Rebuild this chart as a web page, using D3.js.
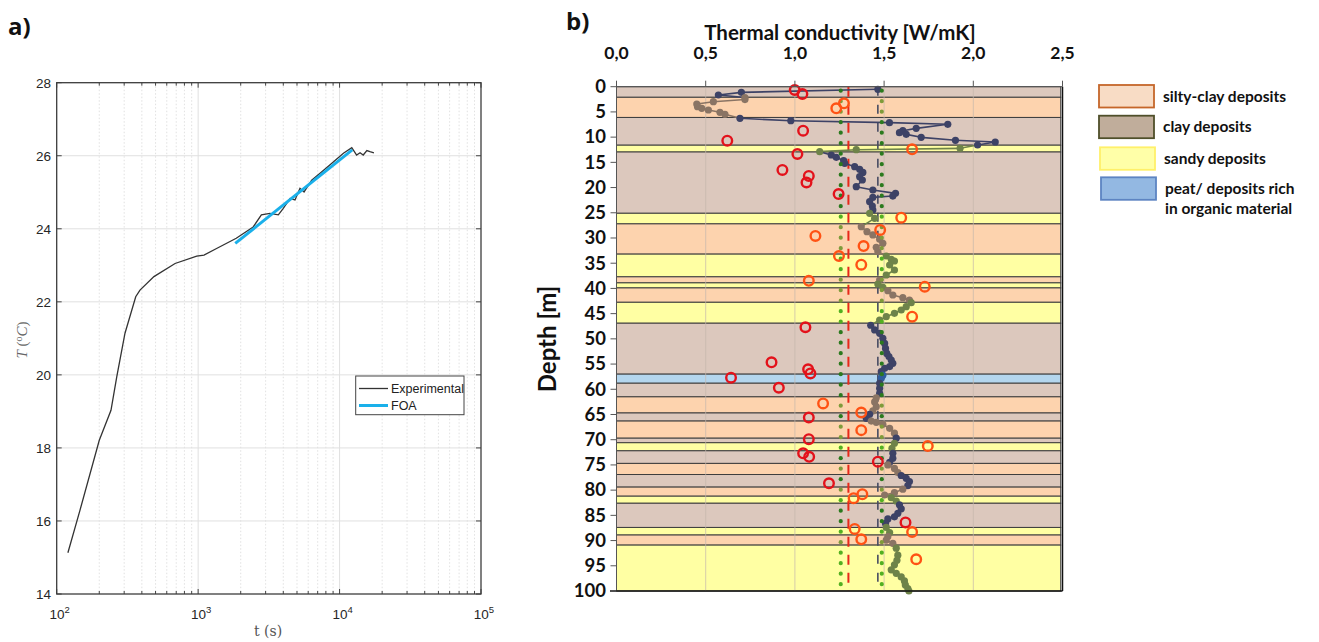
<!DOCTYPE html>
<html><head><meta charset="utf-8">
<script src="https://cdn.jsdelivr.net/npm/d3@7"></script>
<style>body{margin:0;background:#fff;} svg{display:block;}</style>
</head><body>
<svg id="c" width="1319" height="642"></svg>
<script>
// ---------------- Panel a data ----------------
const expTime = [120,146,200,242,266,304,362,388,487,687,977,1100,1350,1860,2450,2800,3220,3690,4000,4470,4840,5250,5610,6350,7280,8570,10650,12200,13200,13960,14700,15600,16400,17500];
const expTemp = [15.13,16.29,18.21,19.03,19.95,21.14,22.14,22.32,22.69,23.05,23.25,23.28,23.46,23.74,24.05,24.38,24.42,24.38,24.56,24.83,24.79,25.11,25.01,25.33,25.52,25.75,26.07,26.22,26.02,26.08,26.02,26.14,26.11,26.08];
const foaTime = [1830,12300];
const foaTemp = [23.6,26.16];
const aYTicks = [14,16,18,20,22,24,26,28];
const aXExponents = [2,3,4,5];
const aLegend = ["Experimental","FOA"];

// ---------------- Panel b data ----------------
const layerTop    = [0,2.1,6.1,11.6,12.95,25.1,27.2,33.2,37.7,38.9,39.9,42.75,46.9,57.0,58.8,61.5,64.7,66.3,69.7,70.6,72.2,74.7,76.9,79.4,81.2,82.6,87.4,88.9,90.9];
const layerKind   = ["clay","silty","clay","sandy","clay","sandy","silty","sandy","silty","sandy","silty","sandy","clay","peat","clay","silty","clay","silty","clay","sandy","clay","silty","clay","silty","sandy","clay","sandy","silty","sandy"];
const profDepth = [0.52,1.12,1.65,2.15,2.55,2.97,3.43,3.96,4.29,4.62,5.08,5.48,6.27,6.74,7.13,7.46,8.26,8.72,9.12,9.45,10.04,10.63,10.97,11.56,12.22,12.49,12.88,13.54,14.0,14.67,15.2,15.86,16.39,16.99,17.85,18.5,19.83,20.48,21.15,21.68,21.94,22.8,23.66,24.45,25.1,
  26.1,27.76,28.75,29.4,30.26,31.06,31.85,32.7,33.57,34.23,34.56,35.36,36.35,37.34,38.33,39.12,39.78,40.45,41.3,41.84,42.3,42.83,43.62,44.28,44.93,45.6,46.26,47.3,
  48.24,48.9,49.9,50.9,51.9,52.9,53.5,54.2,54.85,55.5,55.85,56.5,57.2,57.8,58.8,59.8,60.8,61.7,62.5,63.45,64.3,64.97,65.76,66.3,66.55,66.95,67.74,68.7,69.7,70.7,71.7,72.7,
  73.7,74.5,75.0,75.7,76.5,77.1,77.65,78.3,79.1,79.8,80.5,80.96,81.5,82.15,82.9,83.7,84.6,85.3,85.7,86.6,87.4,88.4,89.2,89.9,90.55,91.5,92.9,93.9,94.8,95.8,96.5,97.2,98.0,98.8,99.5,100];
const profK = [1.465,0.70,0.571,0.72,0.72,0.543,0.45,0.454,0.478,0.515,0.58,0.608,0.692,0.977,1.53,1.857,1.68,1.605,1.586,1.624,1.708,1.90,2.123,2.024,1.926,1.344,1.139,1.204,1.232,1.273,1.279,1.335,1.363,1.381,1.363,1.378,1.344,1.437,1.564,1.549,1.437,1.419,1.434,1.437,1.419,
  1.447,1.372,1.404,1.437,1.475,1.493,1.456,1.465,1.512,1.54,1.558,1.531,1.558,1.512,1.475,1.465,1.493,1.521,1.549,1.605,1.642,1.652,1.624,1.596,1.558,1.512,1.475,1.425,
  1.447,1.475,1.493,1.503,1.508,1.515,1.527,1.540,1.549,1.531,1.503,1.484,1.493,1.484,1.475,1.475,1.475,1.456,1.447,1.456,1.437,1.419,1.40,1.428,1.456,1.493,1.531,1.558,1.568,1.558,1.544,1.549,
  1.549,1.531,1.521,1.558,1.577,1.596,1.624,1.642,1.633,1.605,1.558,1.503,1.540,1.568,1.586,1.596,1.577,1.558,1.521,1.508,1.512,1.531,1.521,1.512,1.549,1.568,1.577,1.572,1.558,1.540,1.568,1.596,1.614,1.619,1.633,1.639];
const circDepth = [0.65,1.45,3.3,4.29,8.72,10.7,12.42,13.35,16.5,17.7,19.0,21.28,25.97,28.4,29.6,31.6,33.57,35.3,38.5,39.65,45.6,47.7,54.65,56.05,56.85,57.7,59.7,62.8,64.6,65.6,68.1,69.9,71.25,72.7,73.4,74.35,78.65,80.8,81.6,86.4,87.7,88.3,89.75,93.7];
const circK     = [0.999,1.042,1.275,1.232,1.046,0.621,1.657,1.014,0.93,1.078,1.065,1.245,1.596,1.478,1.115,1.385,1.247,1.372,1.078,1.728,1.657,1.059,0.869,1.074,1.087,0.642,0.91,1.158,1.372,1.078,1.372,1.078,1.745,1.046,1.08,1.465,1.191,1.378,1.329,1.62,1.335,1.657,1.372,1.68];
const meanK  = [1.30, 1.465];      // red dashed, navy dashed
const boundK = [1.257, 1.487];     // green dotted
const bXTicks = [0,0.5,1.0,1.5,2.0,2.5];
const bXTickLabels = ["0,0","0,5","1,0","1,5","2,0","2,5"];
const bYTicks = [0,5,10,15,20,25,30,35,40,45,50,55,60,65,70,75,80,85,90,95,100];
const bLegendKinds = ["silty","clay","sandy","peat"];
const bLegendLabels = [["silty-clay deposits"],["clay deposits"],["sandy deposits"],["peat/ deposits rich","in organic material"]];

// ---------------- drawing ----------------
const svg = d3.select("#c");
svg.append("rect").attr("width",1319).attr("height",642).attr("fill","#fff");

// ====== Panel a ======
const xA = d3.scaleLog().domain([100,1e5]).range([56.7,481]);
const yA = d3.scaleLinear().domain([14,28]).range([594,82.7]);
const gA = svg.append("g");
gA.append("rect").attr("x",56.7).attr("y",82.7).attr("width",481-56.7).attr("height",594-82.7).attr("fill","#fff");
const minorX = [];
aXExponents.slice(0,-1).forEach(e=>{ for(let m=2;m<=9;m++) minorX.push(m*Math.pow(10,e)); });
gA.selectAll(".mx").data(minorX).enter().append("line")
  .attr("x1",d=>xA(d)).attr("x2",d=>xA(d)).attr("y1",82.7).attr("y2",594)
  .attr("stroke","#d9d9d9").attr("stroke-width",0.8).attr("stroke-dasharray","1.5,2");
const majorX = aXExponents.map(e=>Math.pow(10,e));
gA.selectAll(".Mx").data(majorX.slice(1,-1)).enter().append("line")
  .attr("x1",d=>xA(d)).attr("x2",d=>xA(d)).attr("y1",82.7).attr("y2",594)
  .attr("stroke","#e0e0e0").attr("stroke-width",1);
gA.selectAll(".My").data(aYTicks.slice(1,-1)).enter().append("line")
  .attr("y1",d=>yA(d)).attr("y2",d=>yA(d)).attr("x1",56.7).attr("x2",481)
  .attr("stroke","#e0e0e0").attr("stroke-width",1);
minorX.forEach(v=>{
  gA.append("line").attr("x1",xA(v)).attr("x2",xA(v)).attr("y1",594).attr("y2",591).attr("stroke","#444");
  gA.append("line").attr("x1",xA(v)).attr("x2",xA(v)).attr("y1",82.7).attr("y2",85.7).attr("stroke","#444");
});
majorX.forEach(v=>{
  gA.append("line").attr("x1",xA(v)).attr("x2",xA(v)).attr("y1",594).attr("y2",589).attr("stroke","#444");
  gA.append("line").attr("x1",xA(v)).attr("x2",xA(v)).attr("y1",82.7).attr("y2",87.7).attr("stroke","#444");
});
aYTicks.forEach(v=>{
  gA.append("line").attr("x1",56.7).attr("x2",61.7).attr("y1",yA(v)).attr("y2",yA(v)).attr("stroke","#444");
  gA.append("line").attr("x1",481).attr("x2",476).attr("y1",yA(v)).attr("y2",yA(v)).attr("stroke","#444");
});
gA.append("rect").attr("x",56.7).attr("y",82.7).attr("width",481-56.7).attr("height",594-82.7)
  .attr("fill","none").attr("stroke","#3c3c3c").attr("stroke-width",1.3);
gA.selectAll(".yl").data(aYTicks).enter().append("text")
  .attr("x",51).attr("y",d=>yA(d)+5).attr("text-anchor","end")
  .attr("font-family","Liberation Sans, Arial, sans-serif").attr("font-size",13.5).attr("fill","#262626").text(d=>d);
aXExponents.forEach(e=>{
  const t = gA.append("text").attr("x",xA(Math.pow(10,e))+3).attr("y",619).attr("text-anchor","middle")
    .attr("font-family","Liberation Sans, Arial, sans-serif").attr("font-size",13.5).attr("fill","#262626");
  t.append("tspan").text("10");
  t.append("tspan").attr("dy",-6).attr("font-size",9.5).text(e);
});
gA.append("text").attr("x",268).attr("y",636).attr("text-anchor","middle")
  .attr("font-family","DejaVu Serif, Liberation Serif, serif").attr("font-size",14).attr("fill","#555").text("t (s)");
const yl = gA.append("text").attr("transform","translate(27,340) rotate(-90)").attr("text-anchor","middle")
  .attr("font-family","Liberation Serif, DejaVu Serif, serif").attr("font-size",15).attr("fill","#666");
yl.append("tspan").attr("font-style","italic").text("T");
yl.append("tspan").text(" (");
yl.append("tspan").attr("dy",-5).attr("font-size",10).text("o");
yl.append("tspan").attr("dy",5).attr("font-style","italic").text("C");
yl.append("tspan").text(")");
const lineA = d3.line().x(d=>xA(d[0])).y(d=>yA(d[1]));
gA.append("path").attr("d",lineA(d3.zip(expTime,expTemp))).attr("fill","none").attr("stroke","#333").attr("stroke-width",1.3);
gA.append("path").attr("d",lineA(d3.zip(foaTime,foaTemp))).attr("fill","none").attr("stroke","#1ab0ea").attr("stroke-width",3);
gA.append("rect").attr("x",355.7).attr("y",376).attr("width",108.3).attr("height",38.7)
  .attr("fill","#fff").attr("stroke","#444").attr("stroke-width",1);
const legCol = ["#333","#1ab0ea"], legW=[1.3,3];
aLegend.forEach((s,i)=>{
  const y = 388.5 + i*17;
  gA.append("line").attr("x1",359).attr("x2",388).attr("y1",y).attr("y2",y).attr("stroke",legCol[i]).attr("stroke-width",legW[i]);
  gA.append("text").attr("x",391).attr("y",y+4.5).attr("font-family","Liberation Sans, Arial, sans-serif")
    .attr("font-size",12.5).attr("fill","#222").text(s);
});
svg.append("text").attr("x",8).attr("y",35).attr("font-family","Open Sans, sans-serif").attr("font-weight",700)
  .attr("font-size",24).attr("fill","#111").text("a)");

// ====== Panel b ======
const xB = d3.scaleLinear().domain([0,2.5]).range([616.5,1062.5]);
const yB = d3.scaleLinear().domain([0,100]).range([86.7,591]);
const gB = svg.append("g");
const bandFill = {clay:"#dcc8bd", silty:"#fdd3ae", sandy:"#ffffa3", peat:"#b4d6ee"};
const lineCol = {clay:"#3d4266", silty:"#8a7464", sandy:"#6e8349", peat:"#2f5d9e"};
const dotCol = {clay:"#2b7a1e", silty:"#7f9b3a", sandy:"#52b021", peat:"#2b7a1e"};
const layerBottom = layerTop.slice(1).concat([100]);
function kindAt(d){ let k = layerKind[0]; for(let i=0;i<layerTop.length;i++){ if(d>=layerTop[i]) k=layerKind[i]; } return k; }

layerTop.forEach((t,i)=>{
  gB.append("rect").attr("x",xB(0)).attr("y",yB(t)).attr("width",xB(2.49)-xB(0)).attr("height",yB(layerBottom[i])-yB(t))
    .attr("fill",bandFill[layerKind[i]]).attr("stroke","#3e3e3e").attr("stroke-width",1);
});
gB.selectAll(".gx").data([0.5,1.0,1.5,2.0]).enter().append("line")
  .attr("x1",d=>xB(d)).attr("x2",d=>xB(d)).attr("y1",yB(0)).attr("y2",yB(100))
  .attr("stroke","#c4b6ac").attr("stroke-opacity",0.7).attr("stroke-width",1);
gB.append("line").attr("x1",xB(meanK[1])).attr("x2",xB(meanK[1])).attr("y1",yB(0)).attr("y2",yB(100))
  .attr("stroke","#474b62").attr("stroke-width",1.6).attr("stroke-dasharray","9,9");
gB.append("line").attr("x1",xB(meanK[0])).attr("x2",xB(meanK[0])).attr("y1",yB(0)).attr("y2",yB(100))
  .attr("stroke","#e8281a").attr("stroke-width",2).attr("stroke-dasharray","10,8");
const pts = d3.zip(profDepth, profK);
for(let i=0;i<pts.length-1;i++){
  const md = (pts[i][0]+pts[i+1][0])/2;
  gB.append("line").attr("x1",xB(pts[i][1])).attr("y1",yB(pts[i][0])).attr("x2",xB(pts[i+1][1])).attr("y2",yB(pts[i+1][0]))
    .attr("stroke",lineCol[kindAt(md)]).attr("stroke-width",1.6);
}
gB.selectAll(".pm").data(pts).enter().append("circle")
  .attr("cx",d=>xB(d[1])).attr("cy",d=>yB(d[0])).attr("r",3.6).attr("fill",d=>lineCol[kindAt(d[0])]);
boundK.forEach(k=>{
  layerTop.forEach((t,i)=>{
    const y0=yB(t), y1=yB(layerBottom[i]);
    gB.append("line").attr("x1",xB(k)).attr("x2",xB(k)).attr("y1",y0).attr("y2",y1)
      .attr("stroke",dotCol[layerKind[i]]).attr("stroke-width",4.2).attr("stroke-linecap","round")
      .attr("stroke-dasharray","0,10.5").attr("stroke-dashoffset",(y0-yB(0)-4)%10.5);
  });
});
gB.selectAll(".oc").data(d3.zip(circDepth,circK)).enter().append("circle")
  .attr("cx",d=>xB(d[1])).attr("cy",d=>yB(d[0])).attr("r",4.8).attr("fill","none")
  .attr("stroke",d=>{const k=kindAt(d[0]); return (k==="clay"||k==="peat")?"#e3121b":"#ff5214";}).attr("stroke-width",2.4);
gB.append("line").attr("x1",xB(0)).attr("x2",xB(0)).attr("y1",yB(0)).attr("y2",yB(100)).attr("stroke","#555").attr("stroke-width",1);
gB.append("line").attr("x1",xB(0)).attr("x2",xB(2.5)).attr("y1",yB(0)).attr("y2",yB(0)).attr("stroke","#555").attr("stroke-width",1);
gB.append("line").attr("x1",610).attr("x2",xB(2.5)).attr("y1",yB(100)).attr("y2",yB(100)).attr("stroke","#111").attr("stroke-width",1.5);
gB.append("line").attr("x1",xB(2.5)).attr("x2",xB(2.5)).attr("y1",yB(0)).attr("y2",yB(100)).attr("stroke","#111").attr("stroke-width",1.5);
bXTicks.forEach(v=>{ gB.append("line").attr("x1",xB(v)).attr("x2",xB(v)).attr("y1",yB(0)).attr("y2",yB(0)-6).attr("stroke","#555"); });
bYTicks.forEach(v=>{ gB.append("line").attr("x1",xB(0)-6).attr("x2",xB(0)).attr("y1",yB(v)).attr("y2",yB(v)).attr("stroke","#555"); });
const fB = "Lato, Open Sans, sans-serif";
gB.selectAll(".xl").data(bXTicks).enter().append("text")
  .attr("x",d=>xB(d)).attr("y",59).attr("text-anchor","middle").attr("font-family",fB).attr("font-weight",700)
  .attr("font-size",17.5).attr("fill","#111").text((d,i)=>bXTickLabels[i]);
gB.selectAll(".ylb").data(bYTicks).enter().append("text")
  .attr("x",606).attr("y",d=>yB(d)+6.3).attr("text-anchor","end").attr("font-family",fB).attr("font-weight",700)
  .attr("font-size",18.5).attr("fill","#111").text(d=>d);
gB.append("text").attr("x",840).attr("y",40).attr("text-anchor","middle").attr("font-family",fB).attr("font-weight",700)
  .attr("font-size",20.5).attr("fill","#111").text("Thermal conductivity [W/mK]");
gB.append("text").attr("transform","translate(556,339) rotate(-90)").attr("text-anchor","middle").attr("font-family",fB)
  .attr("font-weight",700).attr("font-size",24).attr("fill","#111").text("Depth [m]");
svg.append("text").attr("x",566).attr("y",30).attr("font-family","Open Sans, sans-serif").attr("font-weight",700)
  .attr("font-size",24).attr("fill","#111").text("b)");
const swFill = {silty:"#f8dcc5", clay:"#c0ad9b", sandy:"#ffffa8", peat:"#93b8e2"};
const swStroke = {silty:"#c5662a", clay:"#4f4f2a", sandy:"#fff06a", peat:"#5d84c2"};
const swY = [85,115.7,147.3,177.3], swX=[1099,1099,1100,1101];
bLegendKinds.forEach((k,i)=>{
  gB.append("rect").attr("x",swX[i]).attr("y",swY[i]).attr("width",55).attr("height",22.5)
    .attr("fill",swFill[k]).attr("stroke",swStroke[k]).attr("stroke-width",1.8);
  bLegendLabels[i].forEach((s,j)=>{
    gB.append("text").attr("x",swX[i]+64).attr("y",swY[i]+16.5+j*20.5).attr("font-family",fB).attr("font-weight",700)
      .attr("font-size",15.5).attr("fill","#111").text(s);
  });
});
</script>
</body></html>
